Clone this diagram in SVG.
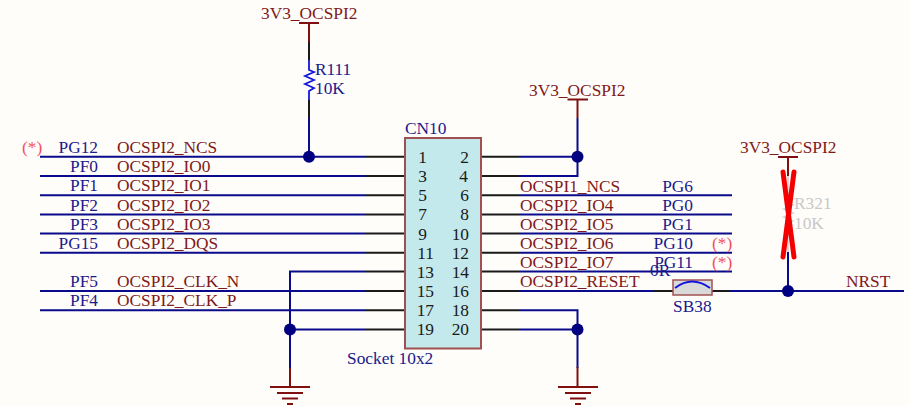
<svg xmlns="http://www.w3.org/2000/svg" width="909" height="406" viewBox="0 0 909 406">
<style>
text{font-family:"Liberation Serif","Times New Roman",serif;font-size:17.35px}
.m{fill:#7f1a1a}.b{fill:#1a1a8c}.k{fill:#1a1a1a}.p{fill:#f0505f}.g{fill:#c8c8c8}
.e{text-anchor:end}.c{text-anchor:middle}
.w{stroke:#0a0a8c;stroke-width:2;fill:none}
.pin{stroke:#1a1a1a;stroke-width:2;fill:none}
.pw{stroke:#7f1010;stroke-width:2;fill:none}
.dot{fill:#000080}
</style>
<rect width="909" height="406" fill="#fffdf9"/>
<g id="connectors">
<path class="w" d="M40 156.7H366M40 176H366M40 195.2H366M40 214.4H366M40 233.6H366M40 252.8H366M40 291H366M40 310.2H366M366 271.6H290V368M290 329.4H366M309 118V156.7"/>
<path class="pin" d="M366 156.7H405M366 176H405M366 195.2H405M366 214.4H405M366 233.6H405M366 252.8H405M366 271.6H405M366 291H405M366 310.2H405M366 329.4H405M481 156.7H520M481 176H520M481 195.2H520M481 214.4H520M481 233.6H520M481 252.8H520M481 271.6H520M481 291H520M481 310.2H520M481 329.4H520"/>
<path class="w" d="M520 156.7H577.5M520 176H577.5V118M520 195.2H732M520 214.4H732M520 233.6H732M520 252.8H732M520 271.6H732M520 291H654M730 291H904M788 252V291M520 310.2H577.5V368M520 329.4H577.5"/>
<path class="pw" d="M309 23V42M299 23H319M577.5 99V118M567.5 99.5H588M788 157V176M778 157H798M290 368V387M270 387H310M277 393H303M282 398.500H298M287 404H293M577.500 367V387M558 387H598M565 393H591M570 398.500H586M575 404H581"/>
<path class="pin" d="M309 42V60M309 100V118M654 291H673M712 291H730"/>
<path d="M788 176V252" stroke="#d8d8d8" stroke-width="2" fill="none"/>
</g>
<g id="R111">
<path d="M309 60V70L314 72L305 76L314 80L305 84L314 88L309 91V100" fill="none" stroke="#1414e0" stroke-width="1.800"/>
<text class="b" x="315" y="75">R111</text>
<text class="b" x="315" y="94">10K</text>
</g>
<g id="CN10">
<rect x="405" y="138" width="76" height="210.500" fill="#c3e9ec" stroke="#a05050" stroke-width="2"/>
<text class="b" x="405" y="134">CN10</text>
<text class="b" x="347" y="364">Socket 10x2</text>
<g class="k">
<text class="k e" x="427" y="163">1</text><text class="k e" x="427" y="182">3</text><text class="k e" x="427" y="201">5</text><text class="k e" x="427" y="220">7</text><text class="k e" x="427" y="240">9</text><text class="k e" x="434" y="259">11</text><text class="k e" x="434" y="278">13</text><text class="k e" x="434" y="297">15</text><text class="k e" x="434" y="316">17</text><text class="k e" x="434" y="335">19</text>
<text class="k e" x="469" y="163">2</text><text class="k e" x="468" y="182">4</text><text class="k e" x="469" y="201">6</text><text class="k e" x="469" y="220">8</text><text class="k e" x="469" y="240">10</text><text class="k e" x="469" y="259">12</text><text class="k e" x="469" y="278">14</text><text class="k e" x="469" y="297">16</text><text class="k e" x="469" y="316">18</text><text class="k e" x="469" y="335">20</text>
</g>
</g>
<g id="left-labels">
<text class="p" x="22" y="153">(*)</text>
<text class="b e" x="98" y="153">PG12</text><text class="m" x="117" y="153">OCSPI2_NCS</text>
<text class="b e" x="98" y="172">PF0</text><text class="m" x="117" y="172">OCSPI2_IO0</text>
<text class="b e" x="98" y="191">PF1</text><text class="m" x="117" y="191">OCSPI2_IO1</text>
<text class="b e" x="98" y="211">PF2</text><text class="m" x="117" y="211">OCSPI2_IO2</text>
<text class="b e" x="98" y="230">PF3</text><text class="m" x="117" y="230">OCSPI2_IO3</text>
<text class="b e" x="98" y="249">PG15</text><text class="m" x="117" y="249">OCSPI2_DQS</text>
<text class="b e" x="98" y="287">PF5</text><text class="m" x="117" y="287">OCSPI2_CLK_N</text>
<text class="b e" x="98" y="306">PF4</text><text class="m" x="117" y="306">OCSPI2_CLK_P</text>
</g>
<g id="right-labels">
<text class="m" x="520" y="192">OCSPI1_NCS</text><text class="b e" x="693" y="192">PG6</text>
<text class="m" x="520" y="211">OCSPI2_IO4</text><text class="b e" x="693" y="211">PG0</text>
<text class="m" x="520" y="230">OCSPI2_IO5</text><text class="b e" x="693" y="230">PG1</text>
<text class="m" x="520" y="249">OCSPI2_IO6</text><text class="b e" x="693" y="249">PG10</text><text class="p" x="712" y="249">(*)</text>
<text class="m" x="520" y="268">OCSPI2_IO7</text><text class="b e" x="693" y="268">PG11</text><text class="p" x="712" y="268">(*)</text>
<text class="m" x="520" y="287">OCSPI2_RESET</text>
<text class="m" x="846" y="287">NRST</text>
</g>
<g id="power-labels">
<text class="m" x="261" y="19">3V3_OCSPI2</text>
<text class="m" x="529" y="96">3V3_OCSPI2</text>
<text class="m" x="740" y="153">3V3_OCSPI2</text>
</g>
<g id="SB38">
<rect x="673" y="280" width="39" height="15" fill="#d9d9d9" stroke="#a05050" stroke-width="1.500"/>
<path d="M675 288Q692 275 710 288" fill="none" stroke="#1414e0" stroke-width="2"/>
<text class="b" x="650" y="276">0R</text>
<text class="b" x="673" y="312">SB38</text>
</g>
<g id="R321">
<path d="M788 192V203L793 205L784 209L793 213L784 217L793 221L788 224V235" fill="none" stroke="#d8d8d8" stroke-width="1.800"/>
<text class="g" x="794" y="209">R321</text>
<text class="g" x="794" y="229">10K</text>
<path d="M783 172L794 257M794 172L783 257" stroke="#f50000" stroke-width="5" stroke-linecap="round" fill="none"/>
</g>
<g id="junctions">
<circle class="dot" cx="309" cy="156.700" r="6"/>
<circle class="dot" cx="577.500" cy="156.700" r="6"/>
<circle class="dot" cx="290" cy="329.400" r="6"/>
<circle class="dot" cx="577.500" cy="329.400" r="6"/>
<circle class="dot" cx="788" cy="291" r="6"/>
</g>
</svg>
